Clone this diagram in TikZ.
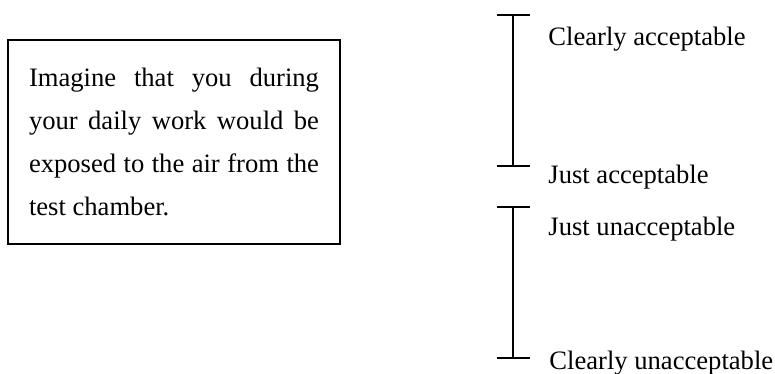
\documentclass[tikz,border=0pt]{standalone}
\usepackage{fontspec}
\setmainfont{Liberation Serif}
\usetikzlibrary{arrows.meta}

\begin{document}
\begin{tikzpicture}[x=0.5pt, y=-0.5pt]
						\tikzstyle{textbox}=[
						draw,
						line width=1pt,
						rectangle,
						text width=145pt,
						align=justify,
						inner xsep=10.5pt,
						minimum height=102pt,
						font=\fontsize{13.3}{21.5}\selectfont
						]
						\tikzstyle{scalebar}=[
						line width=1pt,
						{Bar[width=16.5pt]}-{Bar[width=16.5pt]}
						]
						\tikzstyle{scalelabel}=[
						anchor=base west,
						inner sep=0pt,
						font=\fontsize{13.3}{16}\selectfont
						]
						\useasboundingbox (0,0) rectangle (775,374);
						%
						\node[textbox] (TASK) at (174,142) {Imagine that you during\linebreak your daily work would be\linebreak exposed to the air from the\linebreak test chamber.};
						%
						\coordinate (CA) at (513,14);
						\coordinate (JA) at (513,167);
						\coordinate (JU) at (513,206);
						\coordinate (CU) at (513,359);
						\draw[scalebar] (CA) -- (JA);
						\draw[scalebar] (JU) -- (CU);
						%
						\node[scalelabel] (CAL) at (548,46) {Clearly acceptable};
						\node[scalelabel] (JAL) at (548,183) {Just acceptable};
						\node[scalelabel] (JUL) at (548,235) {Just unacceptable};
						\node[scalelabel] (CUL) at (549,369) {Clearly unacceptable};
					\end{tikzpicture}
\end{document}
